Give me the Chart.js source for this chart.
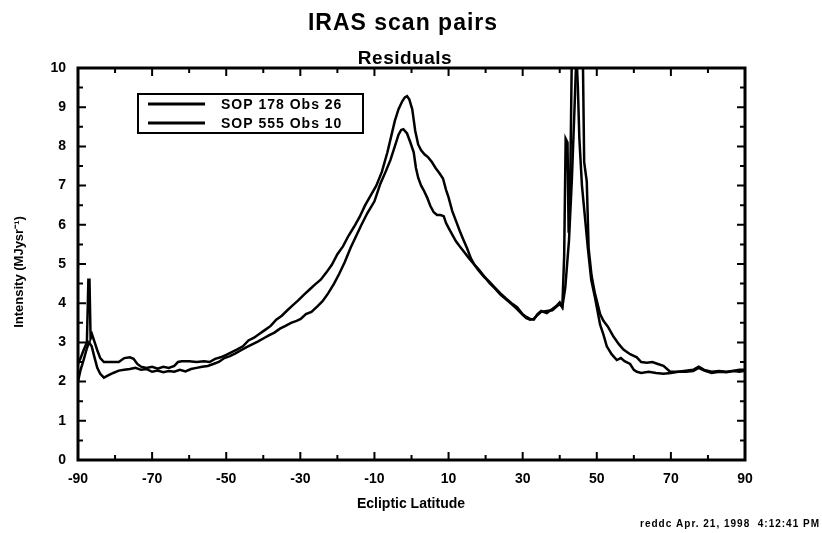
<!DOCTYPE html>
<html>
<head>
<meta charset="utf-8">
<script src="https://cdn.jsdelivr.net/npm/chart.js@4/dist/chart.umd.min.js"></script>
<style>
  html, body { margin: 0; padding: 0; background: #fff; }
  #wrap { width: 822px; height: 533px; }
</style>
</head>
<body>
<div id="wrap"><canvas id="scanChart"></canvas></div>
<script>
// Ecliptic latitude / intensity readings for the two scans
const latA = [-90, -89.3, -88.5, -87.6, -87.2, -86.9, -86.6, -86.2, -85.5, -84.8, -84, -83, -82, -80.5, -79, -77.5, -76, -75, -74, -73, -71.5, -70, -68.5, -67, -65.5, -64, -63, -62, -60, -58, -56, -54.5, -53, -51.5, -50, -48.5, -47, -45.5, -44, -42.5, -41, -39.5, -38, -36.5, -35, -33.5, -32, -30.5, -29, -27.5, -26, -24.5, -23, -21.5, -20, -18.5, -17, -15.5, -14, -12.5, -11, -9.5, -8, -6.5, -5.5, -4.5, -3.5, -2.5, -1.8, -1.2, -0.6, 0.2, 1, 1.8, 2.6, 3.5, 4.5, 5.5, 6.5, 7.5, 8.5, 9.3, 10, 11, 12, 13, 14, 15, 16, 17, 18, 19.5, 21, 22.5, 24, 25.5, 27, 28.5, 30, 31, 32, 33, 34, 35, 36.5, 38, 39, 40, 40.7, 41.5, 42.5, 43.3, 44, 44.6, 46.2, 46.6, 47.3, 47.8, 48.6, 49.5, 50.9, 51.8, 53, 54.5, 56, 57.2, 59, 60.8, 62, 63.5, 65, 66.5, 68, 69.8, 72, 74, 76, 77.5, 79, 81, 83, 85, 87, 88.5, 90];
const valA = [2.45, 2.6, 2.8, 3.0, 4.6, 4.6, 3.1, 3.2, 3.0, 2.8, 2.6, 2.5, 2.5, 2.5, 2.5, 2.6, 2.62, 2.58, 2.45, 2.38, 2.35, 2.38, 2.33, 2.38, 2.35, 2.4, 2.5, 2.52, 2.52, 2.5, 2.52, 2.5, 2.58, 2.62, 2.68, 2.75, 2.82, 2.9, 3.05, 3.12, 3.22, 3.32, 3.42, 3.58, 3.68, 3.82, 3.95, 4.08, 4.22, 4.35, 4.48, 4.6, 4.78, 4.98, 5.25, 5.45, 5.72, 5.95, 6.2, 6.5, 6.75, 7.0, 7.35, 7.85, 8.25, 8.65, 8.95, 9.15, 9.25, 9.28, 9.2, 8.95, 8.4, 8.05, 7.9, 7.8, 7.72, 7.6, 7.45, 7.32, 7.18, 6.9, 6.7, 6.35, 6.1, 5.85, 5.62, 5.4, 5.15, 4.98, 4.85, 4.68, 4.55, 4.4, 4.25, 4.12, 4.0, 3.9, 3.72, 3.65, 3.6, 3.58, 3.72, 3.8, 3.75, 3.85, 3.92, 4.02, 3.9, 4.4, 5.6, 7.2, 9.0, 10.6, 10.6, 7.6, 7.1, 5.4, 4.7, 4.25, 3.72, 3.55, 3.4, 3.15, 2.95, 2.82, 2.7, 2.62, 2.5, 2.48, 2.5, 2.45, 2.4, 2.25, 2.25, 2.28, 2.3, 2.38, 2.3, 2.25, 2.27, 2.25, 2.28, 2.3, 2.3];

const latB = [-90, -89.3, -88.5, -87.6, -87, -86.3, -85.5, -84.8, -84, -83, -82, -80.5, -79, -77.5, -76, -74.5, -73, -71.5, -70, -68.5, -67, -65.5, -64, -62.5, -61, -59.5, -58, -56.5, -55, -53.5, -52, -50.5, -49, -47.5, -46, -44.5, -43, -41.5, -40, -38.5, -37, -35.5, -34, -32.5, -31, -29.9, -28.5, -27, -25.4, -24, -22.5, -20.9, -19.5, -18, -16.4, -15, -13.5, -11.9, -10, -8.4, -7, -5.7, -4.5, -3.5, -2.8, -2.2, -1.2, -0.3, 0.6, 1.2, 1.8, 2.6, 3.3, 4.2, 5.1, 6, 6.9, 7.8, 8.7, 9.3, 10, 11, 12, 13, 14.1, 15.5, 16.8, 18, 19.5, 21, 22.5, 24, 25.5, 27, 28.5, 30, 31, 32, 33, 34, 35, 36.5, 38, 39, 40, 40.7, 41.2, 41.6, 42.1, 42.4, 42.8, 43.3, 44.4, 44.9, 45.3, 46, 46.8, 47.6, 48.5, 49.5, 50.9, 51.8, 52.7, 54, 55.4, 56.5, 57.5, 59, 60, 60.8, 62, 64, 66, 68, 70, 72, 74, 76, 77.5, 79, 81, 83, 85, 87, 88.5, 90];
const valB = [2.0, 2.3, 2.55, 2.85, 3.0, 2.9, 2.6, 2.35, 2.2, 2.1, 2.15, 2.22, 2.28, 2.3, 2.32, 2.35, 2.3, 2.32, 2.25, 2.28, 2.24, 2.27, 2.25, 2.3, 2.26, 2.32, 2.35, 2.38, 2.4, 2.45, 2.5, 2.6, 2.65, 2.72, 2.8, 2.88, 2.95, 3.02, 3.1, 3.18, 3.25, 3.35, 3.42, 3.5, 3.55, 3.6, 3.72, 3.78, 3.92, 4.05, 4.25, 4.5, 4.75, 5.05, 5.42, 5.7, 6.0, 6.3, 6.6, 7.05, 7.35, 7.65, 8.0, 8.3, 8.42, 8.44, 8.33, 8.1, 7.85, 7.45, 7.2, 7.0, 6.88, 6.7, 6.48, 6.32, 6.25, 6.25, 6.22, 6.05, 5.92, 5.75, 5.58, 5.45, 5.32, 5.15, 5.0, 4.88, 4.7, 4.52, 4.38, 4.22, 4.1, 3.98, 3.85, 3.7, 3.62, 3.58, 3.6, 3.7, 3.78, 3.8, 3.82, 3.9, 3.98, 3.9, 5.2, 8.2, 8.1, 5.8, 6.8, 10.6, 10.6, 9.5, 8.2, 7.0, 6.2, 5.4, 4.6, 4.15, 3.45, 3.2, 2.9, 2.7, 2.55, 2.6, 2.52, 2.45, 2.3, 2.25, 2.22, 2.25, 2.22, 2.2, 2.22, 2.25, 2.25, 2.27, 2.35, 2.28, 2.22, 2.25, 2.24, 2.27, 2.25, 2.28];

const seriesNames = ['SOP 178 Obs 26', 'SOP 555 Obs 10'];
const xTicks = [-90, -70, -50, -30, -10, 10, 30, 50, 70, 90];
const xMinor = [-80, -60, -40, -20, 0, 20, 40, 60, 80];
const yTicks = [0, 1, 2, 3, 4, 5, 6, 7, 8, 9, 10];
const yMinor = [0.5, 1.5, 2.5, 3.5, 4.5, 5.5, 6.5, 7.5, 8.5, 9.5];

const FONT = "'Liberation Sans', Arial, sans-serif";

// box, inward ticks, titles, legend and stamp
const framePlugin = {
  id: 'frame',
  afterDraw(chart) {
    const ctx = chart.ctx;
    const a = chart.chartArea;
    const xs = chart.scales.x, ys = chart.scales.y;
    ctx.save();
    ctx.strokeStyle = '#000';
    ctx.lineWidth = 3;
    ctx.strokeRect(a.left, a.top, a.right - a.left, a.bottom - a.top);

    ctx.lineWidth = 2;
    ctx.beginPath();
    const xt = (vals, len) => vals.forEach(v => {
      const px = xs.getPixelForValue(v);
      ctx.moveTo(px, a.bottom); ctx.lineTo(px, a.bottom - len);
      ctx.moveTo(px, a.top); ctx.lineTo(px, a.top + len);
    });
    const yt = (vals, len) => vals.forEach(v => {
      const py = ys.getPixelForValue(v);
      ctx.moveTo(a.left, py); ctx.lineTo(a.left + len, py);
      ctx.moveTo(a.right, py); ctx.lineTo(a.right - len, py);
    });
    xt(xTicks, 8); xt(xMinor, 5);
    yt(yTicks, 8); yt(yMinor, 5);
    ctx.stroke();

    ctx.fillStyle = '#000';
    ctx.textAlign = 'center';
    ctx.textBaseline = 'middle';
    ctx.font = 'bold 23px ' + FONT;
    ctx.letterSpacing = '1px';
    ctx.fillText('IRAS scan pairs', 403, 24);
    ctx.font = 'bold 19px ' + FONT;
    ctx.letterSpacing = '0.5px';
    ctx.fillText('Residuals', 405, 59);
    ctx.font = 'bold 14px ' + FONT;
    ctx.letterSpacing = '0px';
    ctx.fillText('Ecliptic Latitude', 411, 504);

    ctx.save();
    ctx.translate(19, 272);
    ctx.rotate(-Math.PI / 2);
    ctx.font = 'bold 13px ' + FONT;
    ctx.fillText('Intensity (MJysr\u207B\u00B9)', 0, 0);
    ctx.restore();

    // legend
    ctx.lineWidth = 2;
    ctx.strokeRect(138, 94, 225, 39);
    ctx.lineWidth = 3;
    ctx.textAlign = 'left';
    ctx.font = 'bold 14px ' + FONT;
    ctx.letterSpacing = '1px';
    chart.data.datasets.forEach((ds, i) => {
      const y = 104 + i * 19;
      ctx.beginPath();
      ctx.moveTo(148, y); ctx.lineTo(205, y);
      ctx.stroke();
      ctx.fillText(ds.label, 221, y + 1);
    });

    ctx.textAlign = 'right';
    ctx.font = 'bold 10px ' + FONT;
    ctx.letterSpacing = '1px';
    ctx.fillText('reddc Apr. 21, 1998  4:12:41 PM', 820, 524);
    ctx.restore();
  }
};

const toPoints = (xs, ys) => xs.map((x, i) => ({ x: x, y: ys[i] }));

new Chart(document.getElementById('scanChart'), {
  type: 'line',
  data: {
    datasets: [
      {
        label: seriesNames[0],
        data: toPoints(latA, valA),
        borderColor: '#000',
        borderWidth: 2.5,
        pointRadius: 0,
        tension: 0
      },
      {
        label: seriesNames[1],
        data: toPoints(latB, valB),
        borderColor: '#000',
        borderWidth: 2.5,
        pointRadius: 0,
        tension: 0
      }
    ]
  },
  options: {
    responsive: true,
    maintainAspectRatio: false,
    animation: false,
    layout: { padding: { top: 68, right: 77, bottom: 25, left: 0 } },
    plugins: {
      legend: { display: false },
      tooltip: { enabled: false }
    },
    scales: {
      x: {
        type: 'linear',
        min: -90,
        max: 90,
        afterBuildTicks: s => { s.ticks = xTicks.map(v => ({ value: v })); },
        afterFit: s => { s.height = 48; },
        grid: { display: false, drawTicks: false },
        border: { display: false },
        ticks: {
          padding: 11,
          color: '#000',
          font: { family: FONT, size: 14, weight: 'bold' },
          maxRotation: 0
        }
      },
      y: {
        min: 0,
        max: 10,
        afterBuildTicks: s => { s.ticks = yTicks.map(v => ({ value: v })); },
        afterFit: s => { s.width = 78; },
        grid: { display: false, drawTicks: false },
        border: { display: false },
        ticks: {
          padding: 12,
          color: '#000',
          font: { family: FONT, size: 14, weight: 'bold' }
        }
      }
    }
  },
  plugins: [framePlugin]
});
</script>
</body>
</html>
